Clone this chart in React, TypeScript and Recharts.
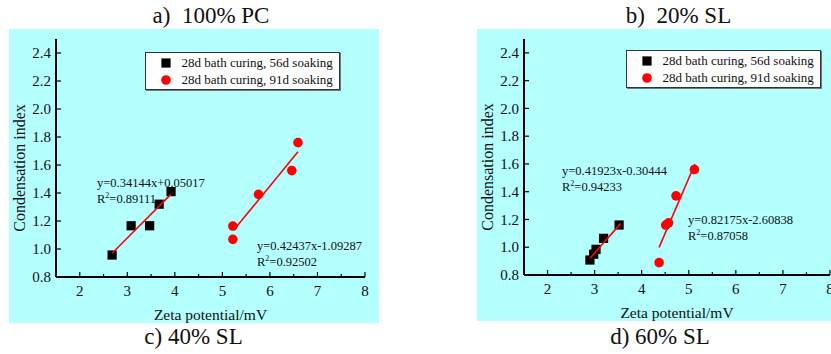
import React from "react";
import { ScatterChart, Scatter, XAxis, YAxis, Legend } from "recharts";

const FONT = '"Liberation Serif", "Times New Roman", serif';
const CYAN = "#b4ffff";

// axis ticks shared by both panels
const xTicks = [2, 2.5, 3, 3.5, 4, 4.5, 5, 5.5, 6, 6.5, 7, 7.5, 8];
const yTicks = [0.8, 1.0, 1.2, 1.4, 1.6, 1.8, 2.0, 2.2, 2.4];
const seriesNames = ["28d bath curing, 56d soaking", "28d bath curing, 91d soaking"];

// panel 1 (100% PC / 40% SL)
const leftSquares = [
  { x: 2.68, y: 0.957 },
  { x: 3.08, y: 1.166 },
  { x: 3.47, y: 1.166 },
  { x: 3.67, y: 1.32 },
  { x: 3.92, y: 1.41 },
];
const leftCircles = [
  { x: 5.22, y: 1.164 },
  { x: 5.22, y: 1.069 },
  { x: 5.76, y: 1.39 },
  { x: 6.46, y: 1.56 },
  { x: 6.59, y: 1.76 },
];
const leftFitSquares = [
  { x: 2.68, y: 0.97 },
  { x: 3.92, y: 1.392 },
];
const leftFitCircles = [
  { x: 5.24, y: 1.135 },
  { x: 6.59, y: 1.694 },
];

// panel 2 (20% SL / 60% SL)
const rightSquares = [
  { x: 2.9, y: 0.908 },
  { x: 2.98, y: 0.95 },
  { x: 3.03, y: 0.985 },
  { x: 3.19, y: 1.064 },
  { x: 3.52, y: 1.16 },
];
const rightCircles = [
  { x: 4.37, y: 0.889 },
  { x: 4.51, y: 1.16 },
  { x: 4.57, y: 1.176 },
  { x: 4.73, y: 1.37 },
  { x: 5.12, y: 1.56 },
];
const rightFitSquares = [
  { x: 2.9, y: 0.92 },
  { x: 3.55, y: 1.17 },
];
const rightFitCircles = [
  { x: 4.37, y: 0.999 },
  { x: 5.13, y: 1.6 },
];

const Square = (p: any) => <rect x={p.cx - 4.6} y={p.cy - 4.6} width={9.2} height={9.2} fill="#000" />;
const Dot = (p: any) => <circle cx={p.cx} cy={p.cy} r={4.8} fill="#ff0000" />;
const Nothing = () => <g />;

const XTick = (p: any) => {
  const v = p.payload.value;
  const major = Number.isInteger(v);
  const axisY = p.y - 8;
  return (
    <g>
      <line x1={p.x} x2={p.x} y1={axisY} y2={axisY - (major ? 5 : 3)} stroke="#000" strokeWidth={1.2} />
      {major && (
        <text x={p.x} y={p.y} dy="0.71em" textAnchor="middle" fontSize={15} fontFamily={FONT} fill="#111">
          {v}
        </text>
      )}
    </g>
  );
};

const YTick = (p: any) => {
  const v = p.payload.value;
  const axisX = p.x + 5;
  return (
    <g>
      <line x1={axisX} x2={axisX + 5} y1={p.y} y2={p.y} stroke="#000" strokeWidth={1.2} />
      <text x={p.x} y={p.y} dy="0.35em" textAnchor="end" fontSize={15} fontFamily={FONT} fill="#111">
        {v.toFixed(1)}
      </text>
    </g>
  );
};

const XTitle = (p: any) => {
  const vb = p.viewBox;
  return (
    <text x={vb.x + vb.width / 2} y={vb.y + vb.height - 3} textAnchor="middle" fontSize={15.5} fontFamily={FONT} fill="#111">
      Zeta potential/mV
    </text>
  );
};

const YTitle = (p: any) => {
  const vb = p.viewBox;
  const x = vb.x + 16;
  const y = vb.y + vb.height / 2 + 10;
  return (
    <text x={x} y={y} transform={`rotate(-90, ${x}, ${y})`} textAnchor="middle" fontSize={16} fontFamily={FONT} fill="#111">
      Condensation index
    </text>
  );
};

const LegendBox = () => (
  <div
    style={{
      background: "#fff",
      border: "1px solid #333",
      boxShadow: "1px 1px 0 #777",
      padding: "1px 6px 1px 15px",
      fontFamily: FONT,
      fontSize: 13,
      color: "#111",
      whiteSpace: "nowrap",
    }}
  >
    {seriesNames.map((name, i) => (
      <div key={name} style={{ display: "flex", alignItems: "center", height: 17, lineHeight: "17px" }}>
        <svg width={10} height={10} style={{ marginRight: 10.5 }}>
          {i === 0 ? <rect x={0.4} y={0.4} width={9.2} height={9.2} fill="#000" /> : <circle cx={5} cy={5} r={4.8} fill="#ff0000" />}
        </svg>
        <span>{name}</span>
      </div>
    ))}
  </div>
);

type Pt = { x: number; y: number };

const Panel = (props: {
  left: number;
  width: number;
  height: number;
  rightMargin: number;
  legendPos: { left: number; top: number };
  squares: Pt[];
  circles: Pt[];
  fitSquares: Pt[];
  fitCircles: Pt[];
}) => (
  <div style={{ position: "absolute", left: props.left, top: 29, width: props.width, height: props.height, background: CYAN }}>
    <ScatterChart width={props.width} height={props.height} margin={{ top: 10, right: props.rightMargin, left: 0, bottom: 0 }}>
      <XAxis
        type="number"
        dataKey="x"
        domain={[1.5, 8]}
        ticks={xTicks}
        interval={0}
        allowDataOverflow
        height={46}
        tickSize={0}
        tickMargin={8}
        tickLine={false}
        axisLine={{ stroke: "#000", strokeWidth: 2 }}
        tick={<XTick />}
        label={{ content: <XTitle /> }}
      />
      <YAxis
        type="number"
        dataKey="y"
        domain={[0.8, 2.5]}
        ticks={yTicks}
        interval={0}
        allowDataOverflow
        width={47}
        tickSize={0}
        tickMargin={5}
        tickLine={false}
        axisLine={{ stroke: "#000", strokeWidth: 2 }}
        tick={<YTick />}
        label={{ content: <YTitle /> }}
      />
      <XAxis xAxisId="top" orientation="top" type="number" domain={[1.5, 8]} height={0} tick={false} tickLine={false} axisLine={{ stroke: "#000", strokeWidth: 1.2 }} />
      <YAxis yAxisId="right" orientation="right" type="number" domain={[0.8, 2.5]} width={0} tick={false} tickLine={false} axisLine={{ stroke: "#000", strokeWidth: 1.2 }} />
      <Legend
        layout="horizontal"
        verticalAlign="middle"
        align="center"
        content={<LegendBox />}
        wrapperStyle={{ left: props.legendPos.left, top: props.legendPos.top, width: "auto" }}
      />
      <Scatter name={seriesNames[0]} data={props.squares} shape={Square} isAnimationActive={false} />
      <Scatter name={seriesNames[1]} data={props.circles} shape={Dot} isAnimationActive={false} />
      <Scatter data={props.fitSquares} shape={Nothing} line={{ stroke: "#ff0000", strokeWidth: 1.6 }} legendType="none" isAnimationActive={false} />
      <Scatter data={props.fitCircles} shape={Nothing} line={{ stroke: "#ff0000", strokeWidth: 1.6 }} legendType="none" isAnimationActive={false} />
    </ScatterChart>
  </div>
);

const Title = (props: { text: string; center: number; top: number }) => (
  <div
    style={{
      position: "absolute",
      left: props.center - 100,
      width: 200,
      top: props.top,
      textAlign: "center",
      fontFamily: FONT,
      fontSize: 23,
      lineHeight: 1,
      color: "#111",
      whiteSpace: "pre",
    }}
  >
    {props.text}
  </div>
);

const Note = (props: { left: number; top: number; eq: string; r2: string }) => (
  <div style={{ position: "absolute", left: props.left, top: props.top, fontFamily: FONT, fontSize: 12.5, lineHeight: "16px", color: "#111", whiteSpace: "nowrap" }}>
    <div>{props.eq}</div>
    <div>
      R<sup style={{ fontSize: 8, verticalAlign: "5px", lineHeight: 0 }}>2</sup>={props.r2}
    </div>
  </div>
);

export default function App() {
  return (
    <div style={{ position: "absolute", left: 0, top: 0, width: 831, height: 354, overflow: "hidden", background: "#fff" }}>
      <Title text="a)  100% PC" center={211} top={3.5} />
      <Title text="b)  20% SL" center={678.5} top={3.5} />
      <Panel
        left={9}
        width={370}
        height={294}
        rightMargin={14}
        legendPos={{ left: 136, top: 23 }}
        squares={leftSquares}
        circles={leftCircles}
        fitSquares={leftFitSquares}
        fitCircles={leftFitCircles}
      />
      <Panel
        left={477}
        width={354}
        height={292}
        rightMargin={1}
        legendPos={{ left: 149, top: 21 }}
        squares={rightSquares}
        circles={rightCircles}
        fitSquares={rightFitSquares}
        fitCircles={rightFitCircles}
      />
      <Note left={97} top={174.5} eq="y=0.34144x+0.05017" r2="0.89111" />
      <Note left={257} top={238} eq="y=0.42437x-1.09287" r2="0.92502" />
      <Note left={562} top={163} eq="y=0.41923x-0.30444" r2="0.94233" />
      <Note left={688} top={212} eq="y=0.82175x-2.60838" r2="0.87058" />
      <Title text="c) 40% SL" center={193.5} top={325} />
      <Title text="d) 60% SL" center={660} top={325} />
    </div>
  );
}
